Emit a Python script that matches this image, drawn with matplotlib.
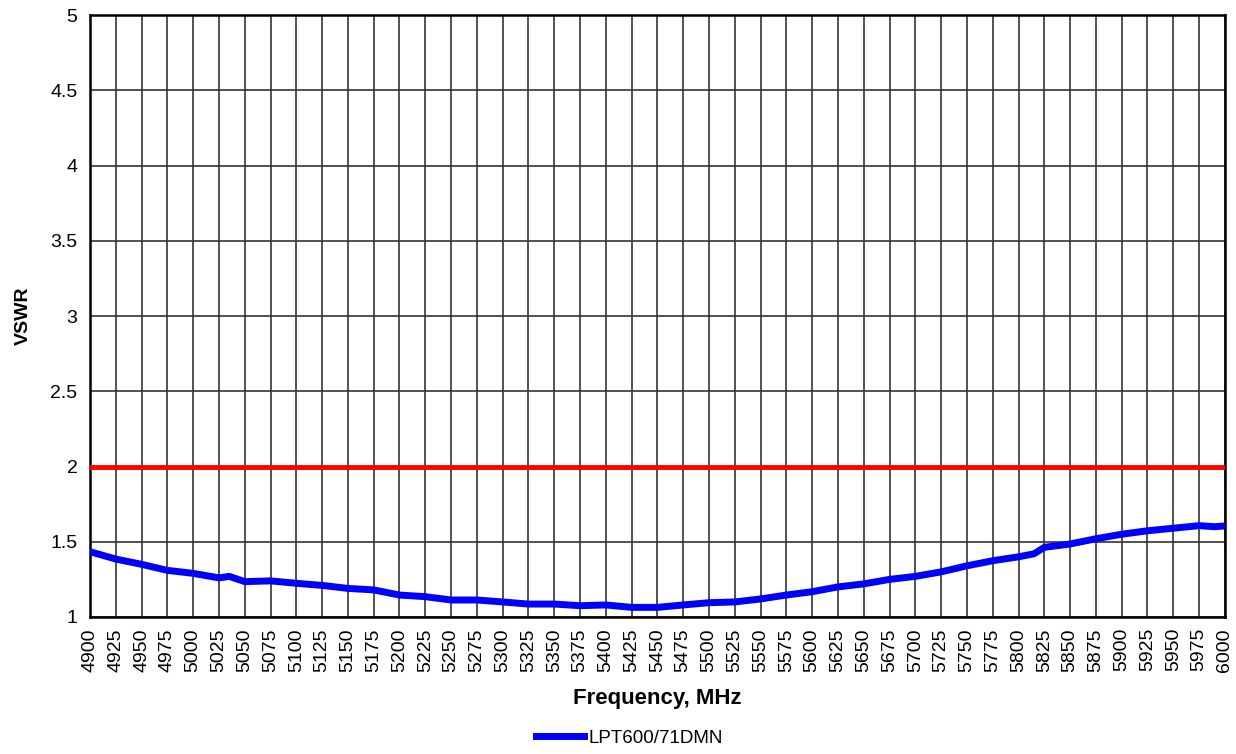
import matplotlib
matplotlib.use("Agg")
import matplotlib.pyplot as plt
import numpy as np

plt.rcParams['font.family'] = ['Liberation Sans', 'DejaVu Sans']

# measured VSWR
freq = [4900, 4925, 4950, 4975, 5000, 5025, 5035, 5050, 5075, 5100, 5125, 5150,
        5175, 5200, 5225, 5250, 5275, 5300, 5325, 5350, 5375, 5400, 5425, 5450,
        5475, 5500, 5525, 5550, 5575, 5600, 5625, 5650, 5675, 5700, 5725, 5750,
        5775, 5800, 5815, 5825, 5850, 5875, 5900, 5925, 5950, 5975, 5990, 6000]
vswr = [1.434, 1.385, 1.35, 1.31, 1.29, 1.26, 1.27, 1.235, 1.24, 1.224, 1.21, 1.19,
        1.18, 1.146, 1.135, 1.113, 1.113, 1.10, 1.086, 1.086, 1.075, 1.08, 1.064, 1.064,
        1.08, 1.095, 1.10, 1.12, 1.146, 1.168, 1.20, 1.22, 1.25, 1.27, 1.30, 1.34,
        1.374, 1.40, 1.42, 1.463, 1.485, 1.52, 1.55, 1.573, 1.59, 1.607, 1.60, 1.605]
limit = 2.0

xticks = list(range(4900, 6001, 25))
yticks = [1, 1.5, 2, 2.5, 3, 3.5, 4, 4.5, 5]

fig = plt.figure(figsize=(12.36, 7.54), dpi=100)
ax = fig.add_axes([0.0728, 0.1817, 0.9182, 0.7983])

ax.set_xlim(4900, 6000)
ax.set_ylim(1, 5)
ax.set_xticks(xticks)
ax.set_xticklabels([str(t) for t in xticks], rotation=90, fontsize=14)
ax.set_yticks(yticks)
ax.set_yticklabels([f"{t:g}" for t in yticks], fontsize=14)
ax.tick_params(axis='x', length=0, pad=8)
ax.tick_params(axis='y', length=0, pad=9)

ax.grid(True, color='#333333', linewidth=1.2)
ax.set_axisbelow(True)
for s in ax.spines.values():
    s.set_linewidth(1.8)
    s.set_color('black')

ax.axhline(limit, color='#ff0000', linewidth=3.5, zorder=3)
line, = ax.plot(freq, vswr, color='#0000ff', linewidth=5, zorder=4,
                label='LPT600/71DMN')

ax.set_xlabel('Frequency, MHz', fontsize=16, fontweight='bold', labelpad=12)
ax.set_ylabel('VSWR', fontsize=14, fontweight='bold', labelpad=13)

fig.legend(handles=[line], loc='center', bbox_to_anchor=(0.509, 0.021),
           frameon=False, fontsize=13.5, handlelength=2.6, handletextpad=0.2)

fig.savefig('out.png', dpi=100)
